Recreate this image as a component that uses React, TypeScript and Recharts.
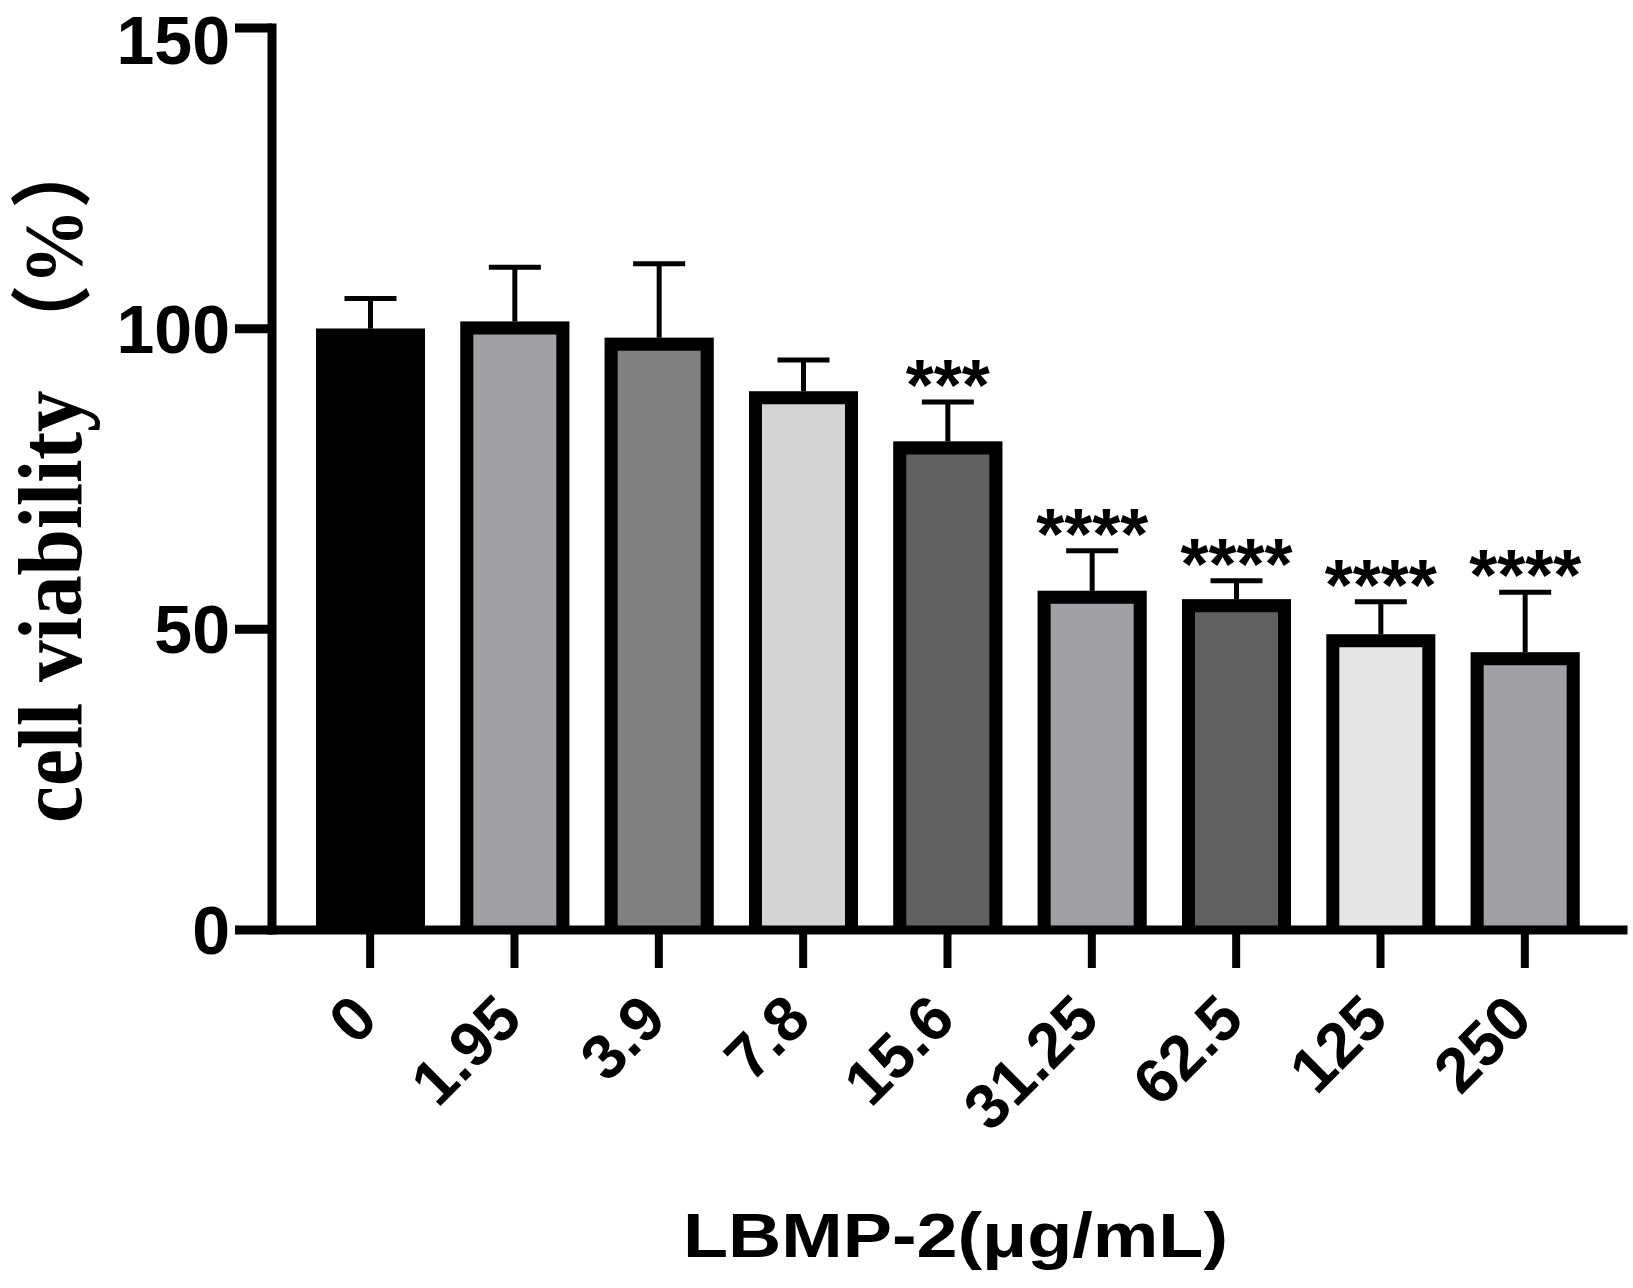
import React from 'react';
import { BarChart, Bar, XAxis, YAxis } from 'recharts';

const categories = ['0', '1.95', '3.9', '7.8', '15.6', '31.25', '62.5', '125', '250'];
const meanViability = [100, 101.2, 98.5, 89.6, 81.25, 56.4, 55.0, 49.2, 46.2];
const sdViability = [5.0, 9.0, 12.3, 5.2, 6.55, 6.65, 3.1, 5.4, 9.95];
const significance = ['', '', '', '', '***', '****', '****', '****', '****'];
const barFills = ['#000000', '#a0a0a4', '#808080', '#d4d4d4', '#606060', '#a0a0a4', '#606060', '#e6e6e6', '#a0a0a4'];
const yTicks = [0, 50, 100, 150];
const xTitle = 'LBMP-2(μg/mL)';
const yTitleMain = 'cell viability';
const yTitleUnit = '（%）';

const data = categories.map((c, i) => ({
  dose: c,
  mean: meanViability[i],
  sd: sdViability[i],
  sig: significance[i],
  fill: barFills[i],
}));

const SANS = "'Liberation Sans', Arial, Helvetica, sans-serif";
const SERIF = "'Liberation Serif', 'Times New Roman', serif";
const BORDER = 13;

function BarShape(props: any) {
  const { x, y, width, height, payload } = props;
  if (height == null || width == null || !payload || !payload.mean) return null;
  const ppu = height / payload.mean;
  const cx = x + width / 2;
  const errTop = y - payload.sd * ppu;
  const bottom = y + height - 4;
  const h = BORDER / 2;
  return (
    <g>
      <rect x={x} y={y} width={width} height={bottom - y} fill={payload.fill} />
      <path
        d={`M${x + h},${bottom} L${x + h},${y + h} L${x + width - h},${y + h} L${x + width - h},${bottom}`}
        fill="none"
        stroke="#000"
        strokeWidth={BORDER}
        strokeLinejoin="miter"
      />
      <line x1={cx} y1={y} x2={cx} y2={errTop} stroke="#000" strokeWidth={5} />
      <line x1={cx - 26} y1={errTop} x2={cx + 26} y2={errTop} stroke="#000" strokeWidth={5} />
      {payload.sig ? (
        <text x={cx} y={errTop + 8} textAnchor="middle" fontSize={72} fontWeight={700} fontFamily={SANS} fill="#000">
          {payload.sig}
        </text>
      ) : null}
    </g>
  );
}

function XTick(props: any) {
  const { x, y, payload } = props;
  const ax = x + 10;
  return (
    <text
      x={ax}
      y={y}
      transform={`rotate(-45 ${ax} ${y})`}
      textAnchor="end"
      fontSize={63}
      fontWeight={700}
      fontFamily={SANS}
      fill="#000"
    >
      {payload.value}
    </text>
  );
}

function XTitle(props: any) {
  const vb = props.viewBox || { x: 272, y: 930, width: 1351, height: 358 };
  const x = vb.x + vb.width / 2 + 8;
  const y = vb.y + 327;
  return (
    <text
      x={x}
      y={y}
      textAnchor="middle"
      fontSize={63}
      fontWeight={700}
      fontFamily={SANS}
      fill="#000"
      textLength={545}
      lengthAdjust="spacingAndGlyphs"
    >
      {xTitle}
    </text>
  );
}

function YTitle(props: any) {
  const vb = props.viewBox || { x: 0, y: 28, width: 272, height: 902 };
  const bx = vb.x + 81;
  const by = vb.y + vb.height - 107;
  return (
    <text
      transform={`translate(${bx},${by}) rotate(-90) scale(0.926,1)`}
      fontSize={90}
      fontWeight={700}
      fontFamily={SERIF}
      fill="#000"
    >
      {yTitleMain}
      <tspan dx={32} fontSize={82} fontFamily="'Liberation Serif', 'Noto Sans CJK SC', serif">
        {yTitleUnit}
      </tspan>
    </text>
  );
}

export default function App() {
  return (
    <div style={{ position: 'absolute', left: 0, top: 0, width: 1633, height: 1288, background: '#fff' }}>
      <BarChart width={1633} height={1288} data={data} margin={{ top: 28, right: 10, bottom: 0, left: 0 }}>
        <XAxis
          dataKey="dose"
          type="category"
          height={358}
          padding={{ left: 26, right: 26 }}
          axisLine={{ stroke: '#000', strokeWidth: 9, strokeLinecap: 'square' }}
          tickLine={{ stroke: '#000', strokeWidth: 8 }}
          tickSize={38}
          tickMargin={54}
          tick={XTick}
          interval={0}
          label={XTitle}
        />
        <YAxis
          type="number"
          domain={[0, 150]}
          ticks={yTicks}
          width={272}
          axisLine={{ stroke: '#000', strokeWidth: 9, strokeLinecap: 'square' }}
          tickLine={{ stroke: '#000', strokeWidth: 9 }}
          tickSize={37}
          tickMargin={5}
          tick={{ fill: '#000', fontSize: 68, fontWeight: 700, fontFamily: SANS }}
          label={YTitle}
          allowDataOverflow
        />
        <Bar dataKey="mean" barSize={109} shape={BarShape} isAnimationActive={false} />
      </BarChart>
    </div>
  );
}
